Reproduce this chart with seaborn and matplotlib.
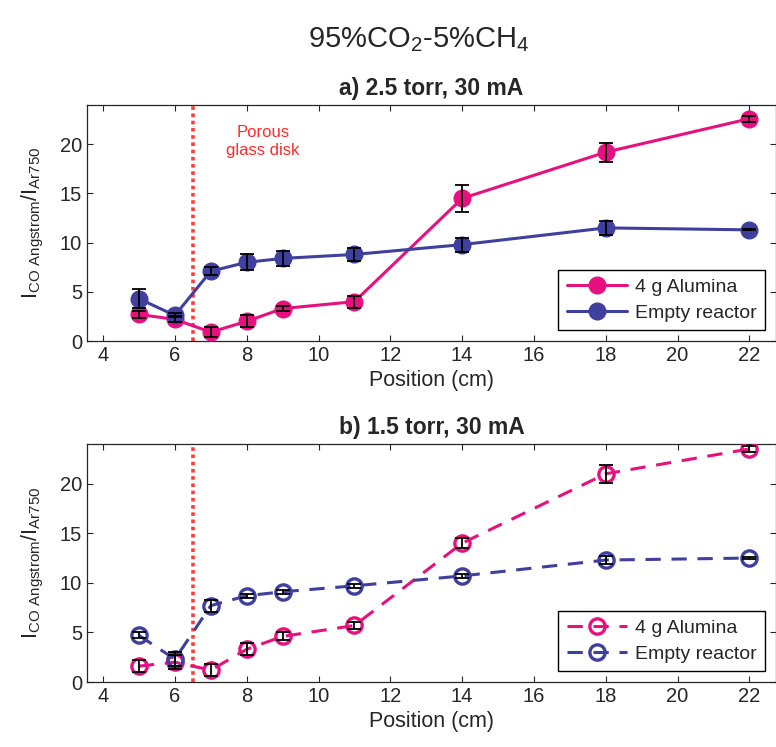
import pandas as pd
import matplotlib.pyplot as plt
import seaborn as sns

positions = [5, 6, 7, 8, 9, 11, 14, 18, 22]

# a) 2.5 torr, 30 mA
alumina_a = [2.7, 2.2, 0.9, 2.0, 3.3, 4.0, 14.5, 19.2, 22.6]
alumina_a_err = [0.4, 0.3, 0.5, 0.6, 0.3, 0.6, 1.35, 0.95, 0.3]
empty_a = [4.3, 2.6, 7.1, 8.0, 8.4, 8.8, 9.8, 11.5, 11.3]
empty_a_err = [0.95, 0.2, 0.4, 0.8, 0.8, 0.7, 0.7, 0.75, 0.05]

# b) 1.5 torr, 30 mA
alumina_b = [1.6, 2.0, 1.2, 3.3, 4.6, 5.7, 14.0, 21.0, 23.5]
alumina_b_err = [0.6, 0.7, 0.6, 0.6, 0.4, 0.4, 0.5, 0.9, 0.3]
empty_b = [4.7, 2.3, 7.7, 8.7, 9.1, 9.7, 10.7, 12.3, 12.5]
empty_b_err = [0.3, 0.7, 0.6, 0.2, 0.2, 0.2, 0.2, 0.4, 0.1]

series_names = ["4 g Alumina", "Empty reactor"]
colors = ["#e6117f", "#3f3f9e"]
titles = ["a) 2.5 torr, 30 mA", "b) 1.5 torr, 30 mA"]

sns.set_theme(style="ticks")
plt.rcParams["font.family"] = ["Liberation Sans", "DejaVu Sans"]
plt.rcParams["mathtext.fontset"] = "custom"
plt.rcParams["mathtext.rm"] = "Liberation Sans"
plt.rcParams["xtick.direction"] = "in"
plt.rcParams["ytick.direction"] = "in"
plt.rcParams["xtick.top"] = True
plt.rcParams["ytick.right"] = True

fig = plt.figure(figsize=(7.76, 7.47), dpi=100)
ax_a = fig.add_axes([0.112, 0.5435, 0.888, 0.316])
ax_b = fig.add_axes([0.112, 0.087, 0.888, 0.3186])

panels = [
    (ax_a, [alumina_a, empty_a], [alumina_a_err, empty_a_err], False),
    (ax_b, [alumina_b, empty_b], [alumina_b_err, empty_b_err], True),
]

for i, (ax, vals, errs, dashed) in enumerate(panels):
    ax.axvline(6.5, color="#ff3b3b", ls=(0, (1, 1)), lw=2.6, zorder=1)
    for name, v, e, c in zip(series_names, vals, errs, colors):
        df = pd.DataFrame({"Position (cm)": positions, "ratio": v})
        kw = dict(marker="o", color=c, linewidth=2.2, label=name, ax=ax,
                  markeredgecolor=c, zorder=3)
        if dashed:
            kw.update(markersize=11, markerfacecolor="none", markeredgewidth=2.4,
                      linestyle=(0, (5, 3.5)))
        else:
            kw.update(markersize=12, markeredgewidth=1)
        sns.lineplot(data=df, x="Position (cm)", y="ratio", **kw)
        ax.errorbar(positions, v, yerr=e, fmt="none", ecolor="black",
                    elinewidth=1.3, capsize=5, capthick=1.3, zorder=4)

    ax.set_xlim(3.55, 22.74)
    ax.set_ylim(0, 24)
    ax.set_xticks(range(4, 23, 2))
    ax.set_yticks([0, 5, 10, 15, 20])
    ax.tick_params(labelsize=14.5, colors="#262626", length=4, width=0.8)
    for sp in ax.spines.values():
        sp.set_color("#262626")
        sp.set_linewidth(0.9)
    ax.set_xlabel("Position (cm)", fontsize=15.5, color="#262626")
    ax.set_ylabel(r"$\mathregular{I_{CO\ Angstrom}/I_{Ar750}}$", fontsize=15.5,
                  color="#262626", labelpad=10)
    ax.set_title(titles[i], fontsize=16.5, fontweight="bold", pad=7)
    leg = ax.legend(loc="lower right", fontsize=14, frameon=True, fancybox=False,
                    edgecolor="black", framealpha=1, handlelength=3.1,
                    borderaxespad=0.55, borderpad=0.45, labelspacing=0.4,
                    handletextpad=0.4)
    leg.get_frame().set_linewidth(1.0)

ax_a.text(8.45, 20.3, "Porous\nglass disk", color="#ff2a2a", fontsize=12,
          ha="center", va="center", linespacing=1.3)

fig.text(0.539, 0.947, r"95%CO$\mathregular{_2}$-5%CH$\mathregular{_4}$",
         ha="center", va="center", fontsize=21)

fig.savefig("out.png", dpi=100)
